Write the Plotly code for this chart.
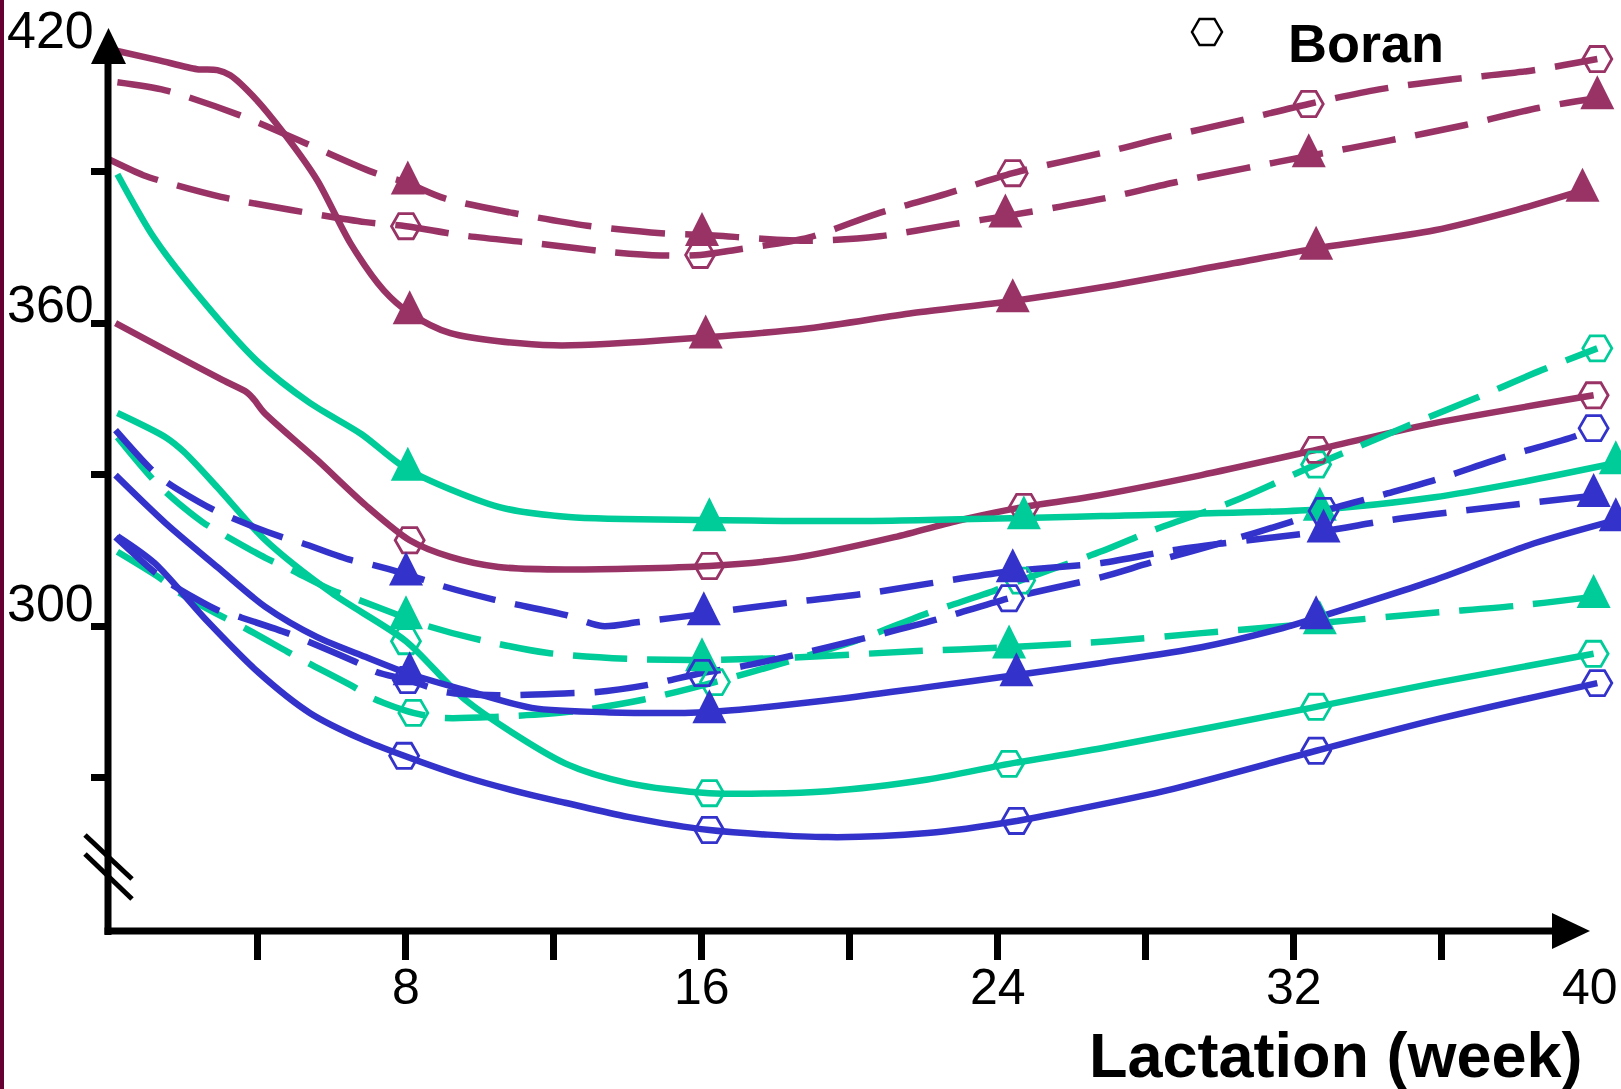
import plotly.graph_objects as go

MAROON = "#993366"
TEAL = "#00CC99"
BLUE = "#3333CC"
STRIPE = "#660033"

# ---------------- data (week, value) ----------------
# *_wk / *_val : points along each curve ; *_mk : indices of the measured weeks (markers)

m_solid_tri_wk = [0.2, 1.3, 2.35, 2.9, 3.25, 3.9, 4.7, 5.6, 6.5, 7.4, 8.1, 9.2, 12.0, 16.1, 18.9, 21.7,
                  24.4, 26.8, 30.4, 32.6, 35.8, 38.0, 39.8]
m_solid_tri_val = [413.9, 412.1, 410.3, 410.1, 409.1, 404.7, 397.6, 388.3, 375.8, 366.5, 362.0, 358.0, 355.6,
                   357.2, 359.0, 362.0, 364.4, 367.1, 371.9, 374.8, 378.4, 382.4, 386.3]
m_solid_tri_mk = [10, 13, 16, 19, 22]

m_dash_tri_wk = [0.2, 1.5, 3.5, 5.3, 7.1, 8.05, 9.05, 10.9, 12.9, 14.9, 16.0, 18.9, 20.8, 22.8, 24.2, 26.8,
                 28.8, 30.7, 32.4, 34.6, 36.6, 38.6, 40.2]
m_dash_tri_val = [407.7, 406.1, 401.2, 395.6, 389.9, 387.7, 384.7, 381.8, 379.3, 377.8, 377.5, 376.3, 377.2,
                  379.6, 381.2, 384.6, 387.9, 390.7, 393.1, 396.2, 399.2, 402.6, 404.6]
m_dash_tri_mk = [5, 10, 14, 18, 22]

m_dash_hex_wk = [-0.05, 0.9, 1.6, 3.0, 4.9, 6.9, 8.0, 9.5, 11.5, 13.5, 14.9, 15.95, 16.9, 18.9, 20.7, 22.6,
                 24.4, 27.1, 28.4, 30.4, 32.4, 34.3, 36.3, 38.3, 40.2]
m_dash_hex_val = [392.5, 389.3, 387.7, 385.0, 382.4, 380.0, 379.2, 377.4, 375.8, 374.1, 373.4, 373.5, 374.5,
                  377.0, 381.6, 385.6, 389.7, 394.2, 396.6, 399.9, 403.4, 406.3, 408.3, 409.9, 412.3]
m_dash_hex_mk = [6, 11, 16, 20, 24]

m_solid_hex_wk = [0.15, 1.6, 3.05, 3.7, 3.9, 4.15, 5.6, 6.9, 8.1, 9.2, 10.5, 12.3, 16.2, 18.5, 21.2, 23.0,
                  24.7, 26.5, 29.5, 32.6, 35.8, 40.1]
m_solid_hex_val = [360.0, 354.3, 348.7, 346.3, 344.8, 342.4, 332.9, 324.0, 317.0, 313.7, 311.7, 311.2, 311.9,
                   313.5, 317.6, 321.0, 323.6, 325.6, 329.9, 334.9, 340.2, 345.7]
m_solid_hex_mk = [8, 12, 16, 19, 21]

t_solid_tri_wk = [0.2, 1.2, 2.6, 4.0, 5.4, 6.8, 8.05, 10.5, 12.4, 16.2, 20.3, 24.7, 26.8, 32.7, 35.8,
                  38.0, 40.7]
t_solid_tri_val = [389.5, 376.8, 363.6, 352.3, 344.2, 338.0, 331.0, 323.6, 321.6, 321.0, 320.8, 321.4,
                   321.8, 323.1, 325.5, 328.3, 332.3]
t_solid_tri_mk = [6, 9, 11, 13, 16]

t_dash_tri_wk = [0.2, 1.35, 2.5, 3.0, 4.2, 4.8, 6.0, 6.6, 8.0, 8.5, 9.8, 11.8, 14.0, 16.0, 18.3, 21.7, 24.3,
                 27.0, 29.5, 32.7, 35.7, 38.0, 40.1]
t_dash_tri_val = [337.4, 327.6, 320.6, 318.4, 313.5, 311.5, 307.1, 305.5, 301.6, 300.2, 297.6, 294.7, 293.5,
                  293.3, 293.7, 295.0, 295.8, 297.0, 298.6, 300.6, 302.6, 304.0, 305.8]
t_dash_tri_mk = [8, 13, 16, 19, 22]

t_solid_hex_wk = [0.2, 1.5, 2.0, 2.9, 4.2, 6.0, 8.0, 9.6, 12.3, 14.0, 16.2, 19.4, 22.1, 24.3, 26.8, 32.6,
                  35.8, 40.1]
t_solid_hex_val = [342.2, 337.4, 334.5, 327.5, 317.0, 306.5, 297.0, 285.4, 272.8, 268.9, 266.9, 267.3, 269.6,
                   272.7, 275.8, 284.0, 288.7, 294.5]
t_solid_hex_mk = [6, 10, 13, 15, 17]

t_dash_hex_wk = [0.2, 1.35, 1.9, 3.05, 3.6, 4.8, 5.35, 6.6, 7.1, 8.2, 9.0, 10.4, 12.4, 14.4, 16.35, 18.2,
                 20.2, 22.0, 23.9, 24.6, 26.8, 28.2, 30.4, 32.6, 33.7, 35.05, 36.9, 38.7, 40.2]
t_dash_hex_val = [314.7, 309.5, 306.5, 301.8, 299.8, 294.9, 292.7, 287.9, 285.7, 282.8, 281.8, 282.0, 283.0,
                  285.4, 288.9, 292.7, 297.2, 302.3, 307.0, 309.0, 314.8, 319.0, 324.8, 332.0, 335.4, 339.6,
                  345.1, 350.7, 355.0]
t_dash_hex_mk = [9, 14, 19, 23, 28]

b_solid_tri_wk = [0.15, 1.5, 2.9, 4.2, 5.6, 6.9, 8.1, 9.6, 11.4, 13.5, 16.2, 19.4, 22.1, 24.5, 26.8, 29.5,
                  31.7, 32.6, 35.8, 38.5, 40.7]
b_solid_tri_val = [329.9, 320.4, 311.7, 303.8, 297.8, 293.9, 290.5, 287.3, 283.8, 282.9, 283.0, 285.3, 287.9,
                   290.3, 292.7, 295.8, 299.6, 301.6, 309.1, 316.4, 321.0]
b_solid_tri_mk = [6, 10, 13, 17, 20]

b_solid_hex_wk = [0.2, 1.2, 2.6, 4.0, 5.4, 6.8, 7.95, 9.6, 11.4, 12.3, 14.0, 16.2, 19.4, 22.1, 24.5, 26.2,
                  28.6, 32.6, 35.8, 40.2]
b_solid_hex_val = [317.8, 312.5, 301.2, 290.9, 282.8, 277.6, 274.3, 270.1, 266.5, 265.0, 262.2, 259.6, 258.2,
                   259.0, 261.4, 263.8, 267.5, 275.3, 281.4, 288.7]
b_solid_hex_mk = [6, 11, 14, 17, 19]

b_dash_tri_wk = [0.15, 1.08, 1.57, 2.7, 3.3, 4.65, 5.2, 6.5, 7.1, 8.0, 9.0, 10.4, 12.3, 13.3, 14.3, 16.05,
                 16.8, 18.3, 20.3, 22.2, 24.4, 26.8, 28.7, 30.1, 32.8, 34.6, 37.3, 40.1]
b_dash_tri_val = [338.8, 331.3, 328.3, 323.4, 321.4, 317.6, 316.4, 313.1, 312.1, 310.3, 307.9, 305.2, 302.2,
                  300.0, 300.8, 302.4, 303.2, 304.6, 306.3, 308.5, 310.9, 312.5, 315.0, 316.4, 318.8, 321.0,
                  323.5, 325.8]
b_dash_tri_mk = [9, 15, 20, 24, 27]

b_dash_hex_wk = [0.15, 1.2, 1.7, 2.9, 3.5, 4.8, 5.4, 6.7, 7.2, 8.05, 9.1, 10.5, 12.4, 13.1, 14.5, 16.0, 17.0,
                 18.4, 20.4, 22.3, 24.3, 26.8, 28.1, 30.1, 31.9, 32.8, 34.4, 35.8, 37.7, 39.6, 40.1]
b_dash_hex_val = [317.6, 310.7, 308.1, 303.2, 301.8, 298.6, 296.8, 292.7, 290.9, 289.3, 286.9, 286.3, 286.7,
                  286.9, 288.3, 290.7, 291.9, 294.1, 297.6, 301.2, 305.5, 309.7, 312.5, 316.6, 320.6, 322.8,
                  326.0, 328.9, 333.5, 337.6, 339.2]
b_dash_hex_mk = [9, 15, 20, 25, 30]

# axis ticks / labels
x_tick_weeks = [4, 8, 12, 16, 20, 24, 28, 32, 36]
x_label_weeks = [8, 16, 24, 32, 40]
y_tick_values = [270, 300, 330, 360, 390]
y_label_values = [420, 360, 300]
x_title = "Lactation (week)"
legend_label = "Boran"

# ---------------- figure ----------------
W, H = 1621, 1089
ML, MB = 108, 158
PLOT_W, PLOT_H = W - ML, H - MB


def px(X):
    return (X - ML) / PLOT_W


def py(Y):
    return (PLOT_H - Y) / PLOT_H


series = [
    (m_solid_tri_wk, m_solid_tri_val, m_solid_tri_mk, MAROON, "solid", "tri"),
    (m_dash_tri_wk, m_dash_tri_val, m_dash_tri_mk, MAROON, "dash", "tri"),
    (m_dash_hex_wk, m_dash_hex_val, m_dash_hex_mk, MAROON, "dash", "hex"),
    (m_solid_hex_wk, m_solid_hex_val, m_solid_hex_mk, MAROON, "solid", "hex"),
    (t_solid_tri_wk, t_solid_tri_val, t_solid_tri_mk, TEAL, "solid", "tri"),
    (t_dash_tri_wk, t_dash_tri_val, t_dash_tri_mk, TEAL, "dash", "tri"),
    (t_solid_hex_wk, t_solid_hex_val, t_solid_hex_mk, TEAL, "solid", "hex"),
    (t_dash_hex_wk, t_dash_hex_val, t_dash_hex_mk, TEAL, "dash", "hex"),
    (b_solid_tri_wk, b_solid_tri_val, b_solid_tri_mk, BLUE, "solid", "tri"),
    (b_solid_hex_wk, b_solid_hex_val, b_solid_hex_mk, BLUE, "solid", "hex"),
    (b_dash_tri_wk, b_dash_tri_val, b_dash_tri_mk, BLUE, "dash", "tri"),
    (b_dash_hex_wk, b_dash_hex_val, b_dash_hex_mk, BLUE, "dash", "hex"),
]

fig = go.Figure()
DASH = "54px,20px"
TRI_SIZE = 34
for wk, val, mk, color, dash, sym in series:
    fig.add_trace(go.Scatter(
        x=wk, y=val, mode="lines",
        line=dict(color=color, width=6.5, dash=(DASH if dash == "dash" else "solid"),
                  shape="spline", smoothing=0.8),
        hoverinfo="skip", showlegend=False))
for wk, val, mk, color, dash, sym in series:
    mx = [wk[i] for i in mk]
    my = [val[i] for i in mk]
    if sym == "tri":
        marker = dict(symbol="arrow-down", angle=180, standoff=TRI_SIZE / 2 * 4 / 3, size=TRI_SIZE,
                      color=color, line=dict(width=0))
    else:
        marker = dict(symbol="hexagon2-open", size=29, color=color,
                      line=dict(width=2.8, color=color))
    fig.add_trace(go.Scatter(x=mx, y=my, mode="markers", marker=marker,
                             cliponaxis=False, showlegend=False, hoverinfo="skip"))

BLACK = "black"
shapes = [
    # left page stripe
    dict(type="rect", xref="paper", yref="paper", x0=px(0), x1=px(4), y0=py(H), y1=py(0),
         fillcolor=STRIPE, line=dict(width=0), layer="above"),
    # y axis line + arrow
    dict(type="line", xref="paper", yref="paper", x0=px(108), x1=px(108), y0=py(935), y1=py(60),
         line=dict(color=BLACK, width=7)),
    dict(type="path", xref="paper", yref="paper",
         path=f"M{px(91)},{py(64)} L{px(126)},{py(64)} L{px(108.5)},{py(28)} Z",
         fillcolor=BLACK, line=dict(color=BLACK, width=0)),
    # x axis line + arrow
    dict(type="line", xref="paper", yref="paper", x0=px(104.5), x1=px(1556), y0=py(931), y1=py(931),
         line=dict(color=BLACK, width=7)),
    dict(type="path", xref="paper", yref="paper",
         path=f"M{px(1552)},{py(913)} L{px(1552)},{py(949)} L{px(1590)},{py(931)} Z",
         fillcolor=BLACK, line=dict(color=BLACK, width=0)),
    # axis break marks
    dict(type="line", xref="paper", yref="paper", x0=px(85), x1=px(132), y0=py(835), y1=py(879),
         line=dict(color=BLACK, width=5)),
    dict(type="line", xref="paper", yref="paper", x0=px(85), x1=px(132), y0=py(854), y1=py(899),
         line=dict(color=BLACK, width=5)),
    # legend hexagon
    dict(type="path", xref="paper", yref="paper",
         path=(f"M{px(1192)},{py(32)} L{px(1199.5)},{py(19)} L{px(1214.5)},{py(19)} "
               f"L{px(1222)},{py(32)} L{px(1214.5)},{py(45)} L{px(1199.5)},{py(45)} Z"),
         line=dict(color=BLACK, width=2.5)),
]

FONT = "Liberation Sans, Arial, sans-serif"
annotations = []
y_label_shift = [-10, 19, 23]
for v, s in zip(y_label_values, y_label_shift):
    annotations.append(dict(x=px(96), xref="paper", y=v, yref="y", text=str(v), showarrow=False,
                            xanchor="right", yanchor="middle", yshift=s,
                            font=dict(family=FONT, size=52, color=BLACK)))
for w in x_label_weeks:
    annotations.append(dict(x=w, xref="x", y=py(987), yref="paper", text=str(w), showarrow=False,
                            xanchor="center", yanchor="middle",
                            font=dict(family=FONT, size=50, color=BLACK)))
annotations.append(dict(x=px(1336), xref="paper", y=py(1055), yref="paper", text=f"<b>{x_title}</b>",
                        showarrow=False, xanchor="center", yanchor="middle",
                        font=dict(family=FONT, size=63, color=BLACK)))
annotations.append(dict(x=px(1286), xref="paper", y=py(43), yref="paper", text=f"<b>{legend_label}</b>",
                        showarrow=False, xanchor="left", yanchor="middle",
                        font=dict(family=FONT, size=54, color=BLACK)))

fig.update_layout(
    width=W, height=H,
    margin=dict(l=ML, r=0, t=0, b=MB, pad=0, autoexpand=False),
    paper_bgcolor="white", plot_bgcolor="white", showlegend=False,
    xaxis=dict(range=[-0.054, 40.84], showgrid=False, zeroline=False, showline=False,
               ticks="outside", tickvals=x_tick_weeks, ticklen=28, tickwidth=7, tickcolor=BLACK,
               showticklabels=False, fixedrange=True),
    yaxis=dict(range=[239.6, 424], showgrid=False, zeroline=False, showline=False,
               ticks="outside", tickvals=y_tick_values, ticklen=16, tickwidth=7, tickcolor=BLACK,
               showticklabels=False, fixedrange=True),
    shapes=shapes,
    annotations=annotations,
)

fig.write_html("out.html", config={"displayModeBar": False},
               post_script="document.body.style.margin='0px';document.body.style.overflow='hidden';")
